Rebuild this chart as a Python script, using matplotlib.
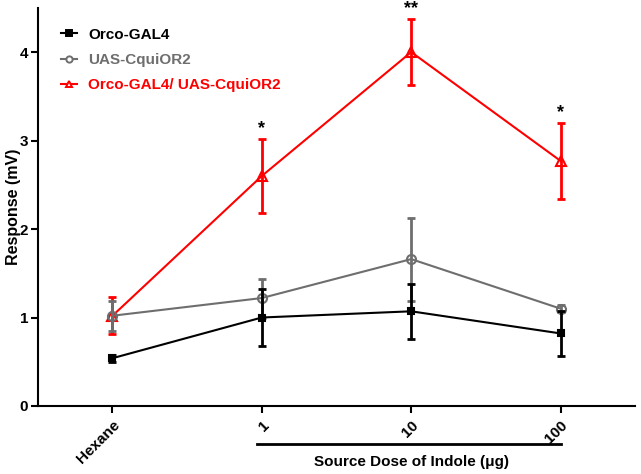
import matplotlib.pyplot as plt
import matplotlib.transforms as mtransforms
from matplotlib.lines import Line2D

plt.rcParams['font.family'] = ['Liberation Sans', 'DejaVu Sans']
plt.rcParams['font.weight'] = 'bold'

# data
doses = ['Hexane', '1', '10', '100']
orco_mean = [0.54, 1.00, 1.07, 0.82]
orco_err = [0.04, 0.32, 0.31, 0.25]
uas_mean = [1.02, 1.22, 1.66, 1.10]
uas_err = [0.17, 0.22, 0.47, 0.04]
cross_mean = [1.02, 2.60, 4.00, 2.77]
cross_err = [0.21, 0.42, 0.37, 0.43]
stars = ['', '*', '**', '*']

x = list(range(len(doses)))

fig = plt.figure(figsize=(6.41, 4.74), dpi=100)
ax = fig.add_axes([0.059, 0.1435, 0.932, 0.84])

series = [
    (orco_mean, orco_err, 'black', 's', 'black', 5, 'Orco-GAL4', 3),
    (uas_mean, uas_err, '#6e6e6e', 'o', 'none', 6.5, 'UAS-CquiOR2', 2),
    (cross_mean, cross_err, '#ff0000', '^', 'none', 7, 'Orco-GAL4/ UAS-CquiOR2', 1),
]
handles = []
for mean, err, col, mk, fc, ms, lab, z in series:
    ax.errorbar(x, mean, yerr=err, fmt='none', ecolor=col, elinewidth=2,
                capsize=3, capthick=2, zorder=z)
    ax.plot(x, mean, color=col, linewidth=1.5, zorder=z)
    ax.plot(x, mean, linestyle='none', marker=mk, markersize=ms,
            markerfacecolor=fc, markeredgecolor=col, markeredgewidth=1.5, zorder=z + 0.5)
    handles.append(Line2D([], [], color=col, linewidth=1.5, marker=mk, markersize=4.5,
                          markerfacecolor='white' if fc == 'none' else fc,
                          markeredgecolor=col, markeredgewidth=1.4, label=lab))

# significance marks
for xi, m, e, s in zip(x, cross_mean, cross_err, stars):
    if s:
        ax.text(xi, m + e + 0.02, s, ha='center', va='bottom', fontsize=13, color='black')

ax.set_xlim(-0.5, 3.5)
ax.set_ylim(0, 4.5)
ax.set_yticks([0, 1, 2, 3, 4])
ax.set_xticks(x)
ax.set_xticklabels(doses, rotation=45, ha='right', rotation_mode='anchor', fontsize=11)
ax.tick_params(axis='y', labelsize=11, width=1.5, length=5, pad=2)
ax.tick_params(axis='x', width=1.5, length=5)

for sp in ['top', 'right']:
    ax.spines[sp].set_visible(False)
for sp in ['left', 'bottom']:
    ax.spines[sp].set_linewidth(1.5)

ax.set_ylabel('Response (mV)', fontsize=11.5, fontweight='bold')
ax.yaxis.set_label_coords(-0.028, 0.5)

# bracket under the dose ticks
trans = mtransforms.blended_transform_factory(ax.transData, ax.transAxes)
ax.plot([0.97, 3.0], [-0.095, -0.095], color='black', linewidth=2, transform=trans, clip_on=False)
ax.text(2.0, -0.122, 'Source Dose of Indole (\u03bcg)', transform=trans, ha='center', va='top',
        fontsize=11, fontweight='bold')

leg = ax.legend(handles=handles, loc='upper left', bbox_to_anchor=(0.015, 0.985), frameon=False,
                fontsize=11, handlelength=1.1, handletextpad=0.7, labelspacing=0.75)
for t, c in zip(leg.get_texts(), ['black', '#6e6e6e', '#ff0000']):
    t.set_color(c)

fig.savefig('out.png', dpi=100)
